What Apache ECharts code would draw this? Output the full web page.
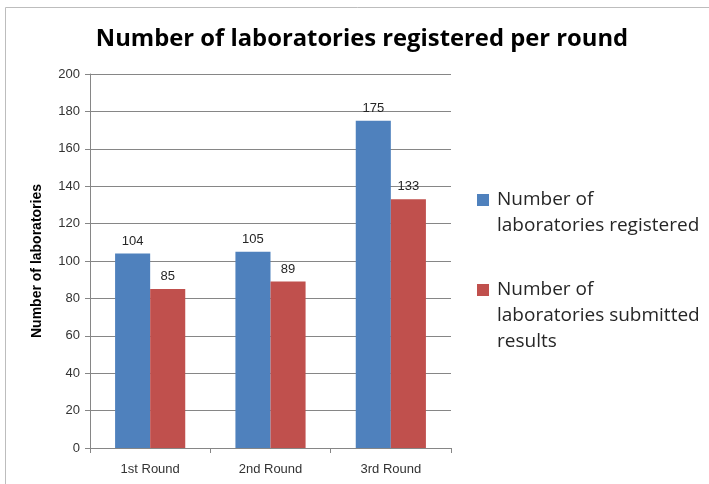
<!DOCTYPE html>
<html>
<head>
<meta charset="utf-8">
<script src="https://cdn.jsdelivr.net/npm/echarts@6/dist/echarts.min.js"></script>
<style>
html, body { margin: 0; padding: 0; background: #fff; }
#chart { width: 709px; height: 484px; }
</style>
</head>
<body>
<div id="chart"></div>
<script>
var categories = ['1st Round', '2nd Round', '3rd Round'];
var registered = [104, 105, 175];
var submitted = [85, 89, 133];
var seriesNames = ['Number of\nlaboratories registered', 'Number of\nlaboratories submitted\nresults'];

var myChart = echarts.init(document.getElementById('chart'));
var labelStyle = {
	show: true,
	position: 'top',
	distance: 6,
	color: '#262626',
	fontSize: 13,
	fontFamily: 'Liberation Sans, Arial, sans-serif'
};
var lineH = 26;
// square marker sitting beside the first text line, the rest of the icon box is empty
function legendFor(idx, top) {
	var lines = seriesNames[idx].split('\n').length;
	var h = lines * lineH;
	var icon = 'path://M0,7L12,7L12,19L0,19Z M0,0L0,0 M15,' + h + 'L15,' + h;
	return {
		orient: 'vertical',
		left: 477,
		top: top,
		padding: 0,
		itemWidth: 15,
		itemHeight: h,
		icon: icon,
		textStyle: {
			fontSize: 19,
			lineHeight: lineH,
			color: '#262626',
			fontFamily: 'Open Sans, sans-serif'
		},
		data: [seriesNames[idx]]
	};
}
myChart.setOption({
	animation: false,
	title: {
		text: 'Number of laboratories registered per round',
		left: 357,
		textAlign: 'center',
		top: 22,
		textStyle: {
			fontSize: 23.8,
			fontWeight: 'bold',
			color: '#000',
			fontFamily: 'Open Sans, sans-serif'
		}
	},
	graphic: [{
		type: 'rect',
		shape: { x: 5.5, y: 7.5, width: 720, height: 500 },
		style: { fill: 'none', stroke: '#bdbdbd', lineWidth: 1 },
		silent: true
	}],
	legend: [legendFor(0, 187), legendFor(1, 277)],
	grid: {
		left: 90,
		top: 74,
		width: 361,
		height: 374,
		containLabel: false
	},
	xAxis: {
		type: 'category',
		data: categories,
		axisLine: { lineStyle: { color: '#868686' } },
		axisTick: { show: true, alignWithLabel: false, length: 5, lineStyle: { color: '#868686' } },
		axisLabel: { color: '#333', fontSize: 13, margin: 15, fontFamily: 'Liberation Sans, Arial, sans-serif' }
	},
	yAxis: {
		type: 'value',
		min: 0,
		max: 200,
		interval: 20,
		name: 'Number of laboratories',
		nameLocation: 'middle',
		nameGap: 46,
		nameTextStyle: { fontSize: 14, fontWeight: 'bold', color: '#000', fontFamily: 'Liberation Sans, Arial, sans-serif' },
		axisLine: { show: true, lineStyle: { color: '#868686' } },
		axisTick: { show: true, length: 5, lineStyle: { color: '#868686' } },
		splitLine: { lineStyle: { color: '#868686' } },
		axisLabel: { color: '#333', fontSize: 13, margin: 10, fontFamily: 'Liberation Sans, Arial, sans-serif' }
	},
	series: [{
		name: seriesNames[0],
		type: 'bar',
		data: registered,
		barGap: '0%',
		barCategoryGap: '41.7%',
		itemStyle: { color: '#4f81bd' },
		label: labelStyle
	}, {
		name: seriesNames[1],
		type: 'bar',
		data: submitted,
		itemStyle: { color: '#c0504d' },
		label: labelStyle
	}]
});
</script>
</body>
</html>
